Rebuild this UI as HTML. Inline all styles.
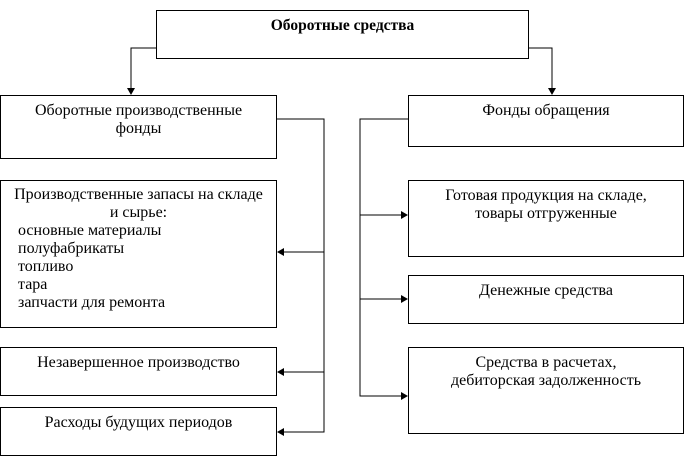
<!DOCTYPE html><html><head><meta charset="utf-8"><style>
body{margin:0;width:684px;height:469px;background:#fff;position:relative;font-family:"Liberation Serif","Noto Serif CJK SC",serif;font-size:16px;color:#000;overflow:hidden}
.b{position:absolute;border:1px solid #000;box-sizing:border-box;text-align:center;line-height:18px;padding-top:6px;white-space:nowrap}
</style></head><body>
<svg width="684" height="469" style="position:absolute;left:0;top:0">
<g stroke="#000" stroke-width="1" fill="none">
<polyline points="156,48 131,48 131,88"/>
<polyline points="528,48 552,48 552,88"/>
<polyline points="276,119 324,119 324,432 284,432"/>
<line x1="324" y1="252" x2="284" y2="252"/>
<line x1="324" y1="372" x2="284" y2="372"/>
<polyline points="408,119 360,119 360,396 401,396"/>
<line x1="360" y1="215" x2="401" y2="215"/>
<line x1="360" y1="299" x2="401" y2="299"/>
</g>
<g fill="#000">
<polygon points="127,88 135,88 131,95"/><polygon points="548,88 556,88 552,95"/>
<polygon points="284,248 284,256 277,252"/><polygon points="284,368 284,376 277,372"/><polygon points="284,428 284,436 277,432"/>
<polygon points="401,211 401,219 408,215"/><polygon points="401,295 401,303 408,299"/><polygon points="401,392 401,400 408,396"/>
</g></svg>
<div class="b" style="left:156px;top:10px;width:373px;height:49px;font-weight:bold;font-size:15.5px">Оборотные средства</div>
<div class="b" style="left:0;top:95px;width:277px;height:64px">Оборотные производственные<br>фонды</div>
<div class="b" style="left:408px;top:95px;width:276px;height:52px">Фонды обращения</div>
<div class="b" style="left:0;top:180px;width:277px;height:148px;padding-top:5px"><div>Производственные запасы на складе<br>и сырье:</div><div style="text-align:left;padding-left:17px">основные материалы<br>полуфабрикаты<br>топливо<br>тара<br>запчасти для ремонта</div></div>
<div class="b" style="left:0;top:347px;width:277px;height:49px">Незавершенное производство</div>
<div class="b" style="left:0;top:407px;width:277px;height:49px">Расходы будущих периодов</div>
<div class="b" style="left:408px;top:180px;width:276px;height:77px">Готовая продукция на складе,<br>товары отгруженные</div>
<div class="b" style="left:408px;top:275px;width:276px;height:49px">Денежные средства</div>
<div class="b" style="left:408px;top:347px;width:276px;height:87px">Средства в расчетах,<br>дебиторская задолженность</div>
</body></html>
